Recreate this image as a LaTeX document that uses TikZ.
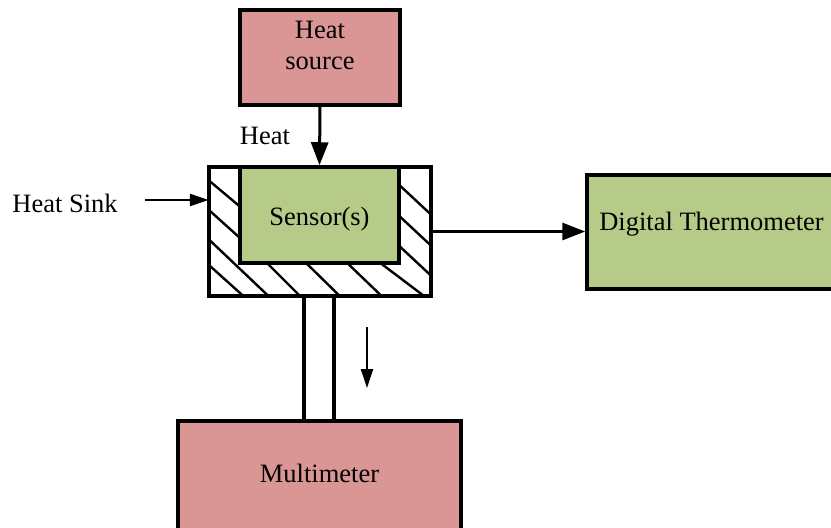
\documentclass[tikz,border=0pt]{standalone}
\usepackage{fontspec}
\setmainfont{Liberation Serif}
\usetikzlibrary{arrows.meta}
\definecolor{pinkbox}{HTML}{D99694}
\definecolor{greenbox}{HTML}{B7CB89}
\begin{document}
\begin{tikzpicture}[x=1pt,y=-1pt,
  blk/.style={draw=black,line width=3.5pt,inner sep=0pt,rectangle},
  lbl/.style={font=\fontsize{26.5}{31}\selectfont,inner sep=0pt,align=center},
  arr/.style={line width=3pt,-{Triangle[length=23pt,width=17pt]}},
  sarr/.style={line width=2.4pt,-{Triangle[length=19pt,width=12pt]}},
  hatch/.style={line width=2.4pt}]
\useasboundingbox (0,0) rectangle (831,528);
\clip (0,0) rectangle (831,528);

% heat sink outline node (drawn later)
\node[inner sep=0pt,minimum width=222pt,minimum height=129pt] (sink) at (320,231.5) {};
\begin{scope}
  \clip (sink.north west) rectangle (sink.south east);
  \draw[hatch] (200,173) -- (250,215);
  \draw[hatch] (200,202) -- (250,247);
  \draw[hatch] (200,231) -- (280,307);
  \draw[hatch] (200,257) -- (250,302);
  \draw[hatch] (262,258) -- (312,308);
  \draw[hatch] (301,258) -- (352,308);
  \draw[hatch] (342,258) -- (392,306);
  \draw[hatch] (375,259) -- (432,302);
  \draw[hatch] (395,181) -- (440,223);
  \draw[hatch] (395,212) -- (440,254);
  \draw[hatch] (395,242) -- (440,284);
\end{scope}
\draw[line width=3.5pt] (sink.north west) rectangle (sink.south east);

% sensor
\node[blk,fill=greenbox,minimum width=159pt,minimum height=96pt] (sensor) at (319.5,215) {};
\node[lbl] (sensortxt) at (319.5,219) {Sensor(s)};

% heat source
\node[blk,fill=pinkbox,minimum width=160pt,minimum height=95pt] (source) at (320,57.5) {};
\node[lbl] (sourcetxt) at (320,45) {Heat\\source};
\node[lbl] (heattxt) at (265,136) {Heat};
\draw[arr] (source.south) -- (sensor.north);

% heat sink label
\node[lbl] (sinktxt) at (65,203) {Heat Sink};
\coordinate (hs) at (145,200);
\draw[sarr] (hs) -- (hs -| sink.west);

% digital thermometer
\node[blk,fill=greenbox,minimum width=249pt,minimum height=114pt] (thermo) at (711.5,232) {};
\node[lbl] (thermotxt) at (711.5,224) {Digital Thermometer};
\draw[arr] (sink.east) -- (thermo.west |- sink.east);

% multimeter
\node[blk,fill=pinkbox,minimum width=283pt,minimum height=125pt] (meter) at (319.5,483.5) {};
\node[lbl] (metertxt) at (319.5,473) {Multimeter};

% pillar
\draw[line width=3.5pt] ([xshift=-16pt]sink.south) -- ([xshift=-16pt]sink.south |- meter.north);
\draw[line width=3.5pt] ([xshift=14pt]sink.south) -- ([xshift=14pt]sink.south |- meter.north);
\coordinate (p1) at (367,327);
\coordinate (p2) at (367,388);
\draw[sarr] (p1) -- (p2);
\end{tikzpicture}
\end{document}
